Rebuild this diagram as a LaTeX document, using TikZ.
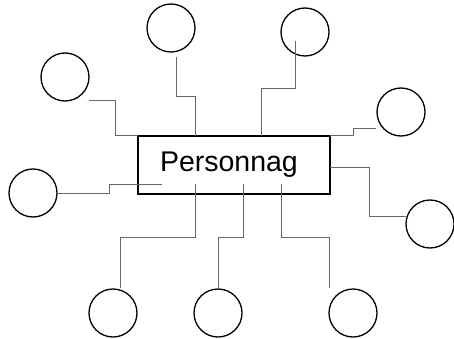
\documentclass[tikz,border=0pt]{standalone}
\usepackage{fontspec}
\setmainfont{Liberation Sans}
\usetikzlibrary{positioning, calc}

\begin{document}
\begin{tikzpicture}[x=1pt,y=-1pt,
        bubble/.style={draw, circle, minimum size=48pt, inner sep=0pt, line width=1.3pt},
        link/.style={draw=black!60, line width=0.9pt}]
                \useasboundingbox (0,0) rectangle (454,339);
                \node[draw, line width=1.8pt, outer sep=0pt, minimum width=192pt, minimum height=58pt,
                      inner xsep=22pt, text width=148pt, align=left, text height=20pt, text depth=6pt,
                      font=\fontsize{28.5}{32}\selectfont] (perso) at (234,164.75) {Personnag};
                \foreach \name/\pos in {c1/{65,77}, c2/{171,28}, c3/{305,32}, c4/{401,112}, c5/{33,193},
                                        c6/{430,224}, c7/{113,313}, c8/{218,313}, c9/{353,313}}
                    \node[bubble] (\name) at (\pos) {};
                \coordinate (pL) at (162,184);
                \coordinate (pB1) at (195,184);
                \coordinate (pB2) at (243,184);
                \coordinate (pB3) at (281,184);
                \draw[link] (c1) ++(24,23) -- ++(26,0) |- (perso.north west);
                \draw[link] (c2) ++(5,29) -- ++(0,39) -| ([xshift=-39pt]perso.north);
                \draw[link] (c3) ++(-10,9) -- ++(0,47) -| ([xshift=27pt]perso.north);
                \draw[link] (c4) ++(-25,16) -- ++(-23,0) |- (perso.north east);
                \draw[link] (c6) ++(-24,-8) -- ++(-37,0) |- ([yshift=-3pt]perso.east);
                \draw[link] (c5.east) -- ++(52,0) |- (pL);
                \draw[link] (pB1) -- ++(0,53) -| ([xshift=7pt]c7.north);
                \draw[link] (pB2) -- ++(0,53) -| (c8.north);
                \draw[link] (pB3) -- ++(0,53) -| ([xshift=-24pt]c9.north);
\end{tikzpicture}
\end{document}
